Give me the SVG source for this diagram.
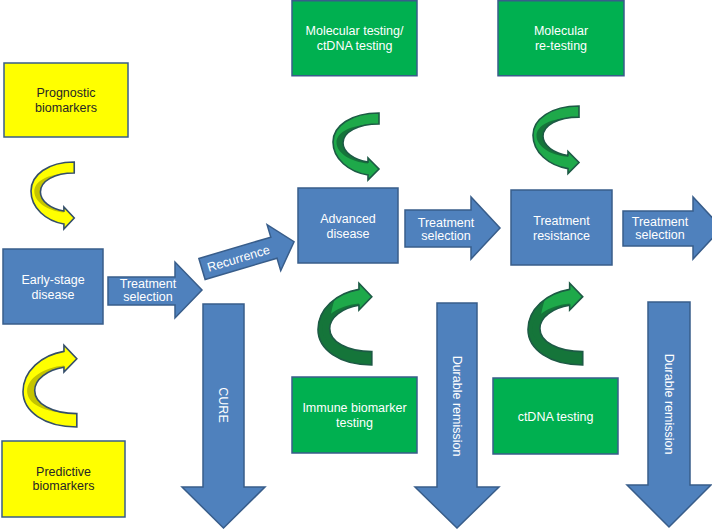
<svg xmlns="http://www.w3.org/2000/svg" width="712" height="529" viewBox="0 0 712 529">
<style>
.blue{fill:#4f81bd;stroke:#385d8a;stroke-width:1.5}
.grn{fill:#00b050;stroke:#385d8a;stroke-width:1.5}
.yel{fill:#ffff00;stroke:#385d8a;stroke-width:1.5}
text{font-family:"Liberation Sans",Arial,Helvetica,sans-serif;font-size:12.5px;text-anchor:middle}
.w{fill:#ffffff}
.k{fill:#262626}
.yf{fill:#ffff00;stroke:none}
.yd{fill:#c4c400;stroke:none}
.yo{fill:none;stroke:#344e6a;stroke-width:1.6}
.gf{fill:#1ea94a;stroke:none}
.gd{fill:#15753a;stroke:none}
.go{fill:none;stroke:#1d5a45;stroke-width:1.6}
</style>
<defs>
<path id="ca" vector-effect="non-scaling-stroke" d="M46,0 C18,0 0,13 0,29 C0,46 16,59 35,62 L35,67 L46,56 L35,45 L35,49 C21,47 10,39 10,30 C10,19 25,11 46,11 Z"/>
<path id="cr" d="M40,11.3 C22,12.5 10,20 10,30 C10,39 21,47 35,49 L35,50.5 C18,49 3.5,40 3.5,29.5 C3.5,19 18,12 40,11.3 Z"/>
<path id="ch" d="M46,0 C18,0 0,13 0,29 C0,40 6,48 14,53 C12,47 10,39 10,30 C10,19 25,11 46,11 Z"/>
</defs>

<g id="connectors">
  <g id="arrow-treatment-selection-1">
    <path class="blue" d="M108,277 L175,277 L175,262 L202,290 L175,318 L175,305 L108,305 Z"/>
    <text class="w" x="148" y="288">Treatment</text>
    <text class="w" x="148" y="301">selection</text>
  </g>
  <g id="arrow-recurrence" transform="translate(202,269) rotate(-16.5)">
    <path class="blue" d="M0,-11 L75,-11 L75,-24 L96,0 L75,24 L75,11 L0,11 Z"/>
    <text class="w" x="38" y="4.5">Recurrence</text>
  </g>
  <g id="arrow-treatment-selection-2">
    <path class="blue" d="M405,210 L471,210 L471,197 L500,228 L471,259 L471,247 L405,247 Z"/>
    <text class="w" x="446" y="227">Treatment</text>
    <text class="w" x="446" y="240">selection</text>
  </g>
  <g id="arrow-treatment-selection-3">
    <path class="blue" d="M623,211 L693,211 L693,197 L722,228 L693,259 L693,246 L623,246 Z"/>
    <text class="w" x="660" y="226">Treatment</text>
    <text class="w" x="660" y="239">selection</text>
  </g>
  <g id="arrow-cure">
    <path class="blue" d="M203,304 L244,304 L244,487 L265,487 L223.5,528 L182,487 L203,487 Z"/>
    <text class="w" transform="translate(223.5,405) rotate(90)" y="4.5">CURE</text>
  </g>
  <g id="arrow-durable-1">
    <path class="blue" d="M437,303 L477,303 L477,487 L499,487 L457,528 L415,487 L437,487 Z"/>
    <text class="w" transform="translate(457,406) rotate(90)" y="4.5">Durable remission</text>
  </g>
  <g id="arrow-durable-2">
    <path class="blue" d="M648,302 L690,302 L690,485 L711,485 L669,527 L627,485 L648,485 Z"/>
    <text class="w" transform="translate(669,404) rotate(90)" y="4.5">Durable remission</text>
  </g>

  <g id="curved-yellow-top" transform="translate(31,162) scale(0.94,1)">
    <use href="#ca" class="yf"/><use href="#cr" class="yd"/><use href="#ca" class="yo"/>
  </g>
  <g id="curved-yellow-bottom" transform="translate(23,427) scale(1.17,-1.22)">
    <use href="#ca" class="yf"/><use href="#cr" class="yd"/><use href="#ca" class="yo"/>
  </g>
  <g id="curved-green-top-1" transform="translate(333,113)">
    <use href="#ca" class="gf"/><use href="#cr" class="gd"/><use href="#ca" class="go"/>
  </g>
  <g id="curved-green-top-2" transform="translate(533,106) scale(1,1.01)">
    <use href="#ca" class="gf"/><use href="#cr" class="gd"/><use href="#ca" class="go"/>
  </g>
  <g id="curved-green-bottom-1" transform="translate(318,365) scale(1.17,-1.22)">
    <use href="#ca" class="gf"/><use href="#ch" class="gd"/><use href="#cr" class="gd"/><use href="#ca" class="go"/>
  </g>
  <g id="curved-green-bottom-2" transform="translate(528,365) scale(1.19,-1.22)">
    <use href="#ca" class="gf"/><use href="#ch" class="gd"/><use href="#cr" class="gd"/><use href="#ca" class="go"/>
  </g>
</g>

<g id="prognostic">
  <rect class="yel" x="4" y="63" width="124" height="74"/>
  <text class="k" x="66" y="97">Prognostic</text>
  <text class="k" x="66" y="112">biomarkers</text>
</g>
<g id="predictive">
  <rect class="yel" x="2" y="441" width="123" height="76"/>
  <text class="k" x="63.5" y="476">Predictive</text>
  <text class="k" x="63.5" y="490">biomarkers</text>
</g>
<g id="early-stage">
  <rect class="blue" x="3" y="249" width="100" height="75"/>
  <text class="w" x="53" y="284">Early-stage</text>
  <text class="w" x="53" y="299">disease</text>
</g>
<g id="advanced">
  <rect class="blue" x="298" y="188" width="100" height="75"/>
  <text class="w" x="348" y="223">Advanced</text>
  <text class="w" x="348" y="238">disease</text>
</g>
<g id="resistance">
  <rect class="blue" x="511" y="190" width="101" height="75"/>
  <text class="w" x="561.5" y="225">Treatment</text>
  <text class="w" x="561.5" y="240">resistance</text>
</g>
<g id="molecular-testing">
  <rect class="grn" x="292" y="0.75" width="125" height="75"/>
  <text class="w" x="354.5" y="35">Molecular testing/</text>
  <text class="w" x="354.5" y="50">ctDNA testing</text>
</g>
<g id="molecular-retesting">
  <rect class="grn" x="498" y="0.75" width="126" height="75"/>
  <text class="w" x="561" y="35">Molecular</text>
  <text class="w" x="561" y="50">re-testing</text>
</g>
<g id="immune">
  <rect class="grn" x="292" y="377" width="125" height="76"/>
  <text class="w" x="354.5" y="412">Immune biomarker</text>
  <text class="w" x="354.5" y="427">testing</text>
</g>
<g id="ctdna">
  <rect class="grn" x="493" y="378" width="125" height="76"/>
  <text class="w" x="555.5" y="421">ctDNA testing</text>
</g>
</svg>
